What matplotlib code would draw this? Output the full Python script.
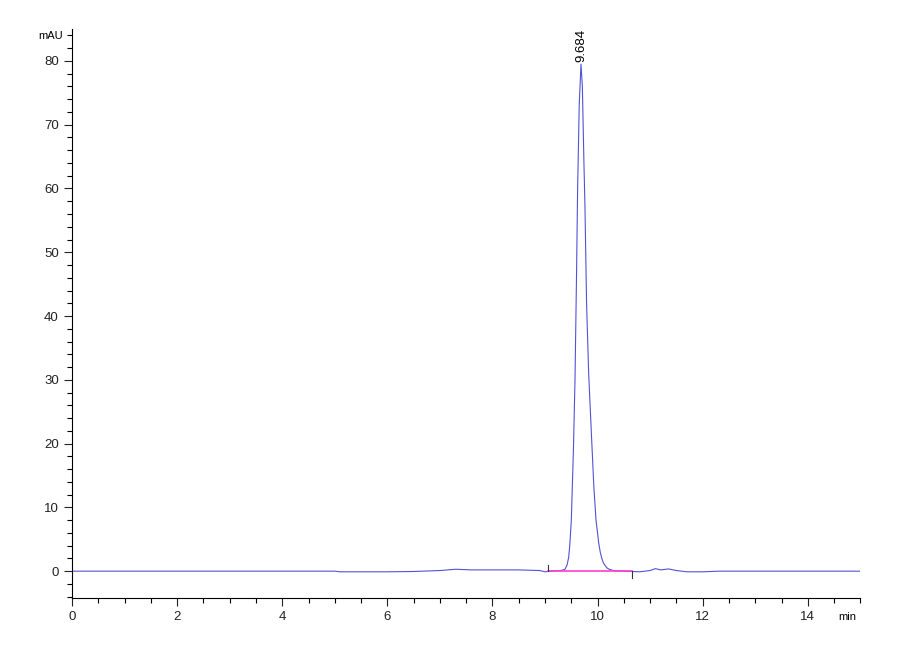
import matplotlib.pyplot as plt
from matplotlib.ticker import MultipleLocator

plt.rcParams['font.family'] = ['Liberation Sans', 'DejaVu Sans']

# retention time (min) and detector signal (mAU)
time_min = [0.0, 2.0, 4.0, 5.0, 5.1, 6.0, 6.5, 7.0, 7.3, 7.6, 8.0, 8.5,
            8.9, 9.0, 9.1, 9.3, 9.38, 9.42, 9.45, 9.47, 9.5, 9.54, 9.57,
            9.6, 9.62, 9.65, 9.684, 9.71, 9.74, 9.76, 9.79, 9.83, 9.885,
            9.93, 9.97, 10.02, 10.05, 10.08, 10.11, 10.15, 10.18, 10.22,
            10.3, 10.5, 10.8, 11.0, 11.1, 11.2, 11.35, 11.5, 11.7, 12.0,
            12.3, 15.0]
signal_mau = [0.0, 0.0, 0.0, 0.0, -0.1, -0.1, -0.05, 0.1, 0.3, 0.2, 0.2,
              0.2, 0.1, -0.1, 0.0, 0.1, 0.3, 1.0, 2.2, 4.0, 8.0, 19.0,
              30.0, 47.0, 60.0, 73.0, 79.5, 76.0, 64.0, 57.0, 42.0, 31.0,
              21.0, 13.0, 8.0, 4.5, 3.0, 2.0, 1.3, 0.8, 0.5, 0.3, 0.1, 0.0,
              -0.1, 0.1, 0.4, 0.2, 0.35, 0.1, -0.1, -0.1, 0.0, 0.0]

peak_rt = 9.684
peak_height = 79.5
baseline_start = 9.05
baseline_end = 10.65

fig = plt.figure(figsize=(9, 6.6), dpi=100)
ax = fig.add_axes([0.08, 0.094, 0.876, 0.862])

ax.plot(time_min, signal_mau, color="#5252d6", linewidth=0.8)

# integration baseline
ax.plot([baseline_start, baseline_end], [0, 0],
        color="#ff3fd0", linewidth=1.2)
ax.plot([baseline_start, baseline_start], [0, 1.0],
        color="#333333", linewidth=0.8)
ax.plot([baseline_end, baseline_end], [0, -1.0],
        color="#333333", linewidth=0.8)

ax.text(peak_rt, peak_height + 0.4, f"{peak_rt:.3f}",
        rotation=90, ha="center", va="bottom", fontsize=9.5)

ax.set_xlim(0, 15)
ax.set_ylim(-4.2, 85)

ax.xaxis.set_major_locator(MultipleLocator(2))
ax.xaxis.set_minor_locator(MultipleLocator(0.5))
ax.yaxis.set_major_locator(MultipleLocator(10))
ax.yaxis.set_minor_locator(MultipleLocator(2))

ax.tick_params(which="major", direction="out", length=6, width=0.8,
               labelsize=9.5, colors="#222222")
ax.tick_params(which="minor", direction="out", length=3.5, width=0.8)

for side in ["top", "right"]:
    ax.spines[side].set_visible(False)
for side in ["left", "bottom"]:
    ax.spines[side].set_linewidth(0.8)

ax.text(-0.012, 83.9, "mAU", transform=ax.get_yaxis_transform(),
        ha="right", va="center", fontsize=8)
ax.text(14.75, -7.2, "min", ha="center", va="center", fontsize=8)

fig.savefig("out.png", dpi=100)
plt.close()
